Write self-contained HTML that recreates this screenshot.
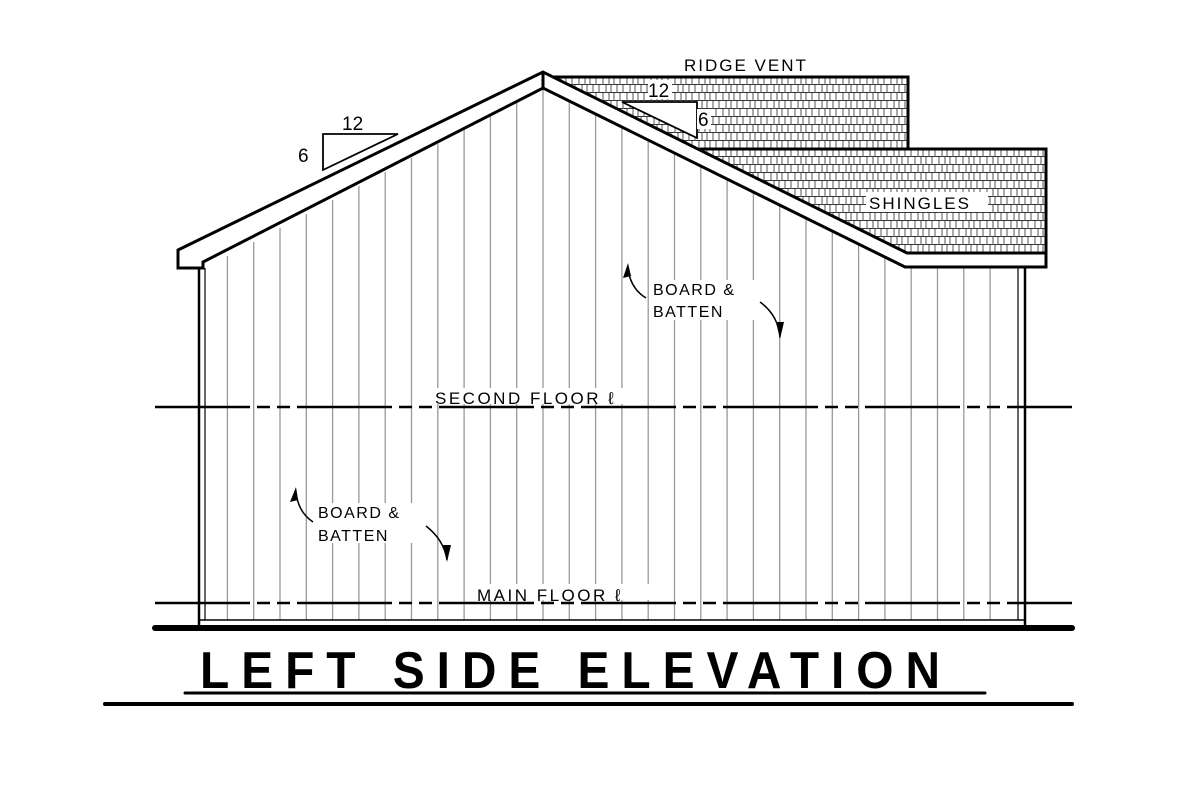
<!DOCTYPE html>
<html><head><style>
html,body{margin:0;padding:0;background:#fff;}
svg{display:block}
text{font-family:"Liberation Sans",sans-serif;fill:#000;}
</style></head><body>
<svg width="1200" height="800" viewBox="0 0 1200 800" xmlns="http://www.w3.org/2000/svg">
<defs>
<pattern id="sh" x="0" y="77" width="24" height="16" patternUnits="userSpaceOnUse">
<rect width="24" height="16" fill="#fff"/>
<line x1="0" y1="7.5" x2="24" y2="7.5" stroke="#333" stroke-width="1"/>
<line x1="0" y1="15.5" x2="24" y2="15.5" stroke="#333" stroke-width="1"/>
<line x1="3" y1="0" x2="3" y2="8" stroke="#555" stroke-width="1"/>
<line x1="9" y1="0" x2="9" y2="8" stroke="#555" stroke-width="1"/>
<line x1="14" y1="0" x2="14" y2="8" stroke="#555" stroke-width="1"/>
<line x1="20" y1="0" x2="20" y2="8" stroke="#555" stroke-width="1"/>
<line x1="6" y1="8" x2="6" y2="16" stroke="#555" stroke-width="1"/>
<line x1="11" y1="8" x2="11" y2="16" stroke="#555" stroke-width="1"/>
<line x1="17" y1="8" x2="17" y2="16" stroke="#555" stroke-width="1"/>
<line x1="23" y1="8" x2="23" y2="16" stroke="#555" stroke-width="1"/>
</pattern>
<clipPath id="wall"><polygon points="205,268 543,88 905,267 1018,267 1018,620 205,620"/></clipPath>
</defs>

<polygon points="553,77 908,77 908,149 1046,149 1046,253 905,253 543,73" fill="url(#sh)"/>
<polyline points="553,77 908,77 908,149" fill="none" stroke="#000" stroke-width="3"/>
<polyline points="700,149 1046,149 1046,267" fill="none" stroke="#000" stroke-width="3"/>

<g clip-path="url(#wall)" stroke="#999" stroke-width="1.3">
<line x1="227.4" y1="80" x2="227.4" y2="620"/><line x1="253.7" y1="80" x2="253.7" y2="620"/>
<line x1="280" y1="80" x2="280" y2="620"/><line x1="306.3" y1="80" x2="306.3" y2="620"/>
<line x1="332.6" y1="80" x2="332.6" y2="620"/><line x1="358.9" y1="80" x2="358.9" y2="620"/>
<line x1="385.2" y1="80" x2="385.2" y2="620"/><line x1="411.5" y1="80" x2="411.5" y2="620"/>
<line x1="437.8" y1="80" x2="437.8" y2="620"/><line x1="464.1" y1="80" x2="464.1" y2="620"/>
<line x1="490.4" y1="80" x2="490.4" y2="620"/><line x1="516.7" y1="80" x2="516.7" y2="620"/>
<line x1="543" y1="80" x2="543" y2="620"/><line x1="569.3" y1="80" x2="569.3" y2="620"/>
<line x1="595.6" y1="80" x2="595.6" y2="620"/><line x1="621.9" y1="80" x2="621.9" y2="620"/>
<line x1="648.2" y1="80" x2="648.2" y2="620"/><line x1="674.5" y1="80" x2="674.5" y2="620"/>
<line x1="700.8" y1="80" x2="700.8" y2="620"/><line x1="727.1" y1="80" x2="727.1" y2="620"/>
<line x1="753.4" y1="80" x2="753.4" y2="620"/><line x1="779.7" y1="80" x2="779.7" y2="620"/>
<line x1="806" y1="80" x2="806" y2="620"/><line x1="832.3" y1="80" x2="832.3" y2="620"/>
<line x1="858.6" y1="80" x2="858.6" y2="620"/><line x1="884.9" y1="80" x2="884.9" y2="620"/>
<line x1="911.2" y1="80" x2="911.2" y2="620"/><line x1="937.5" y1="80" x2="937.5" y2="620"/>
<line x1="963.8" y1="80" x2="963.8" y2="620"/><line x1="990.1" y1="80" x2="990.1" y2="620"/>
</g>

<polygon points="178,250 543,72 907,253 1046,253 1046,267 905,267 543,88 203,262 203,268 178,268" fill="#fff" stroke="#000" stroke-width="3" stroke-linejoin="miter"/>
<line x1="543" y1="72" x2="543" y2="88" stroke="#000" stroke-width="3"/>

<line x1="199" y1="268" x2="199" y2="628" stroke="#000" stroke-width="2.5"/>
<line x1="205" y1="268" x2="205" y2="620" stroke="#000" stroke-width="1.2"/>
<line x1="1025" y1="267" x2="1025" y2="628" stroke="#000" stroke-width="2.5"/>
<line x1="1018" y1="267" x2="1018" y2="620" stroke="#000" stroke-width="1.2"/>
<line x1="199" y1="620" x2="1025" y2="620" stroke="#000" stroke-width="1.5"/>
<line x1="155" y1="628" x2="1072" y2="628" stroke="#000" stroke-width="6" stroke-linecap="round"/>

<line x1="155" y1="407" x2="1072" y2="407" stroke="#000" stroke-width="2.5" stroke-dasharray="95 7 13 7 13 7"/>
<line x1="155" y1="603" x2="1072" y2="603" stroke="#000" stroke-width="2.5" stroke-dasharray="95 7 13 7 13 7"/>

<polygon points="323,170 398,134 323,134" fill="#fff" stroke="#000" stroke-width="1.8"/>
<text x="342" y="130" font-size="19">12</text>
<text x="298" y="162" font-size="19">6</text>
<polygon points="622,102 697,102 697,138" fill="#fff" stroke="#000" stroke-width="1.8"/>
<rect x="648" y="80" width="24" height="19" fill="#fff"/>
<text x="648" y="97" font-size="19">12</text>
<rect x="697" y="109" width="14" height="20" fill="#fff"/>
<text x="698" y="126" font-size="19">6</text>

<rect x="680" y="54" width="150" height="20" fill="#fff"/>
<text x="684" y="71" font-size="17" letter-spacing="2">RIDGE VENT</text>
<rect x="866" y="192" width="122" height="20" fill="#fff"/>
<text x="869" y="209" font-size="17" letter-spacing="2">SHINGLES</text>

<rect x="651" y="280" width="105" height="40" fill="#fff"/>
<text x="653" y="295" font-size="16" letter-spacing="1.5">BOARD &amp;</text>
<text x="653" y="317" font-size="16" letter-spacing="1.5">BATTEN</text>
<path d="M646,298 Q630,288 628,268" fill="none" stroke="#000" stroke-width="1.5"/>
<polygon points="628,263 623,278 631,276" fill="#000"/>
<path d="M760,302 Q778,315 780,337" fill="none" stroke="#000" stroke-width="1.5"/>
<polygon points="780,339 776,322 784,322" fill="#000"/>

<rect x="316" y="503" width="105" height="40" fill="#fff"/>
<text x="318" y="518" font-size="16" letter-spacing="1.5">BOARD &amp;</text>
<text x="318" y="541" font-size="16" letter-spacing="1.5">BATTEN</text>
<path d="M313,522 Q298,512 296,492" fill="none" stroke="#000" stroke-width="1.5"/>
<polygon points="296,487 290,502 298,500" fill="#000"/>
<path d="M426,526 Q444,540 447,560" fill="none" stroke="#000" stroke-width="1.5"/>
<polygon points="447,562 443,545 451,545" fill="#000"/>

<rect x="432" y="388" width="206" height="16" fill="#fff"/>
<text x="435" y="404" font-size="17" letter-spacing="2.5">SECOND FLOOR ℓ</text>
<rect x="474" y="584" width="180" height="16" fill="#fff"/>
<text x="477" y="601" font-size="17" letter-spacing="2.5">MAIN FLOOR ℓ</text>

<text x="200" y="688" font-size="52" font-weight="bold" letter-spacing="13" textLength="752" lengthAdjust="spacingAndGlyphs">LEFT SIDE ELEVATION</text>
<line x1="185" y1="693" x2="985" y2="693" stroke="#000" stroke-width="3" stroke-linecap="round"/>
<line x1="105" y1="704" x2="1072" y2="704" stroke="#000" stroke-width="4" stroke-linecap="round"/>
</svg>
</body></html>
